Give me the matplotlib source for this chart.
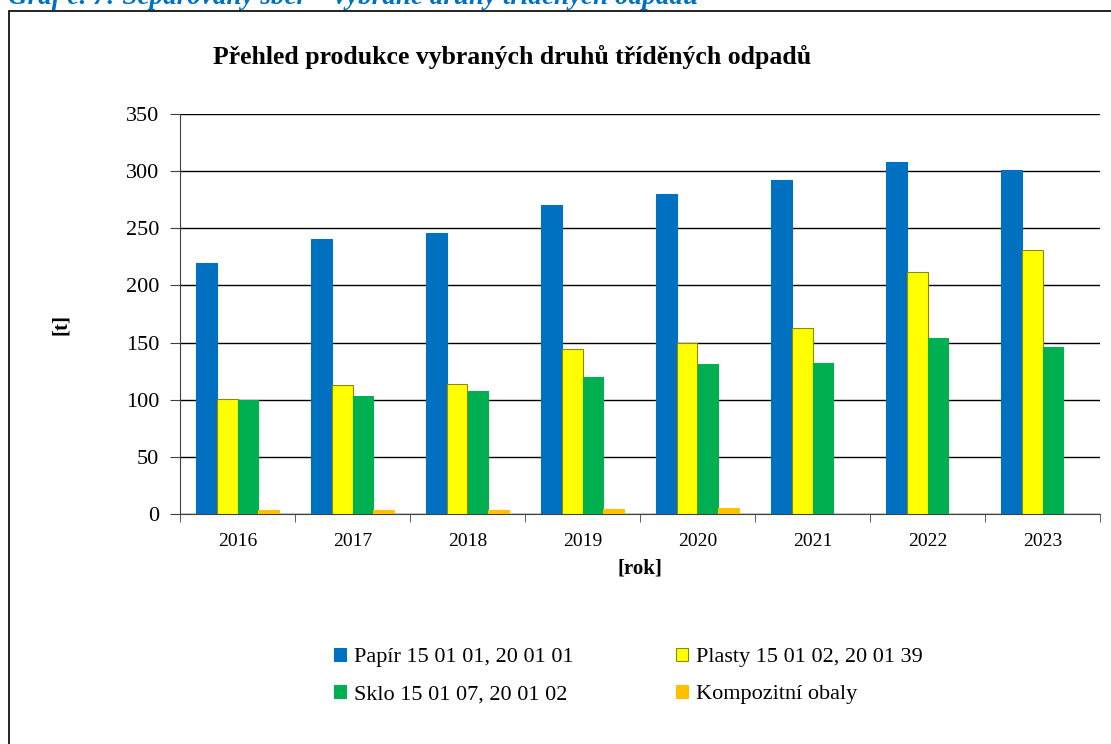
import numpy as np
import matplotlib
matplotlib.use("Agg")
import matplotlib.pyplot as plt
from matplotlib.patches import Rectangle

plt.rcParams['font.family'] = ['Liberation Serif', 'DejaVu Serif']

# data
years = ["2016", "2017", "2018", "2019", "2020", "2021", "2022", "2023"]
papir = [220, 241, 246, 270, 280, 292, 308, 301]
plasty = [101, 113, 114, 144, 150, 163, 212, 231]
sklo = [100, 103, 108, 120, 131, 132, 154, 146]
kompozit = [3.5, 3.5, 3.5, 4.5, 5.5, 0, 0, 0]

series_names = ["Papír 15 01 01, 20 01 01", "Plasty 15 01 02, 20 01 39",
                "Sklo 15 01 07, 20 01 02", "Kompozitní obaly"]
colors = ["#0070C0", "#FFFF00", "#00B050", "#FFC000"]
edges = ["#0070C0", "#8C8C00", "#00B050", "#FFC000"]

W, H = 1111, 744
fig = plt.figure(figsize=(W / 100, H / 100), dpi=100)

# outer frame of the chart object (runs off the right and bottom edges)
fig.patches.append(Rectangle((9 / W, -0.5), 1.5, 1.5 - 11 / H, transform=fig.transFigure,
                             fill=False, edgecolor="black", linewidth=1.2))

# caption above the frame, cut off by the top edge as in the source
fig.text(8 / W, 1 - 4 / H, "Graf č. 7: Separovaný sběr – vybrané druhy tříděných odpadů",
         color="#0070C0", fontsize=19.5, fontweight="bold", fontstyle="italic",
         ha="left", va="baseline")

ax = fig.add_axes([180 / W, 1 - 514 / H, (1100 - 180) / W, (514 - 114) / H])

x = np.arange(len(years))
bw = 0.18
data = [papir, plasty, sklo, kompozit]
handles = []
for i, vals in enumerate(data):
    h = ax.bar(x + (i - 1.5) * bw, vals, bw, color=colors[i], edgecolor=edges[i],
               linewidth=0.8, label=series_names[i], zorder=3)
    handles.append(h)

ax.set_xlim(-0.5, len(years) - 0.5)
ax.set_ylim(0, 350)
ax.set_yticks(np.arange(0, 351, 50))
ax.yaxis.grid(True, color="black", linewidth=1.0, zorder=0)
ax.set_axisbelow(True)

ax.set_xticks(x)
ax.set_xticklabels(years, fontsize=14)
ax.set_xticks(np.arange(-0.5, len(years), 1), minor=True)
ax.tick_params(axis="x", which="major", length=0, pad=14)
ax.tick_params(axis="x", which="minor", length=6, color="#404040", direction="out")
ax.tick_params(axis="y", labelsize=16, length=7, color="#404040", pad=8)

for s in ["top", "right"]:
    ax.spines[s].set_visible(False)
for s in ["left", "bottom"]:
    ax.spines[s].set_color("#404040")

ax.set_xlabel("[rok]", fontsize=15, fontweight="bold", labelpad=6)
fig.text(61 / W, 1 - 325 / H, "[t]", fontsize=15, fontweight="bold", rotation=90,
         ha="center", va="center")

fig.text(512 / W, 1 - 57 / H, "Přehled produkce vybraných druhů tříděných odpadů",
         fontsize=18.5, fontweight="bold", ha="center", va="center")

order = [0, 2, 1, 3]
fig.legend([handles[i] for i in order], [series_names[i] for i in order],
           loc="center", bbox_to_anchor=(628 / W, 1 - 676 / H), ncol=2, frameon=False,
           fontsize=16, handlelength=0.55, handleheight=0.55, handletextpad=0.35,
           columnspacing=4.6, labelspacing=0.8)

fig.savefig("out.png", dpi=100)
